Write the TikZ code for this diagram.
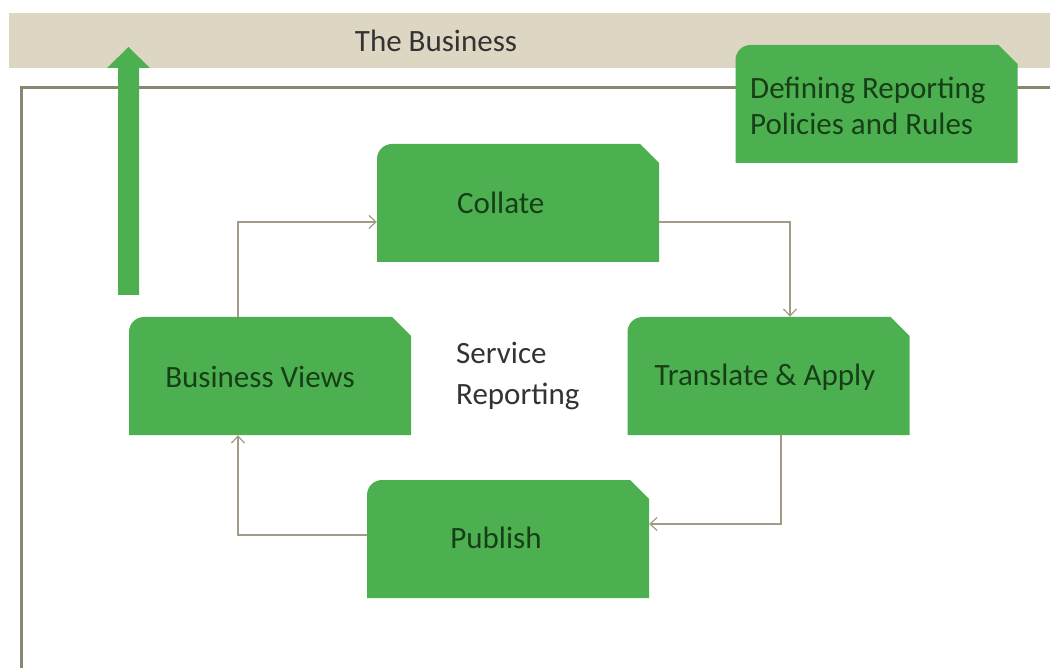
\documentclass[tikz,border=0pt]{standalone}
\usepackage{fontspec}
\setmainfont{Carlito}
\usetikzlibrary{arrows.meta}
\definecolor{boxgreen}{HTML}{4DB050}
\definecolor{boxtext}{HTML}{173F17}
\definecolor{bandc}{HTML}{DDD6C2}
\definecolor{framec}{HTML}{8A8672}
\definecolor{connc}{HTML}{A39B88}
\definecolor{darktext}{HTML}{333333}
\tikzset{
  snipbox/.style={minimum width=282pt, minimum height=118pt, inner sep=0pt,
    path picture={
      \fill[boxgreen] (path picture bounding box.south west)
        [rounded corners=15pt] -- (path picture bounding box.north west)
        [sharp corners] -- ([xshift=-19pt]path picture bounding box.north east)
        -- ([yshift=-19pt]path picture bounding box.north east)
        -- (path picture bounding box.south east) -- cycle;}},
  boxlabel/.style={font=\fontsize{31pt}{36pt}\selectfont, text=boxtext, inner sep=0pt},
  plainlabel/.style={font=\fontsize{31pt}{40pt}\selectfont, text=darktext, inner sep=0pt},
  conn/.style={draw=connc, line width=1.2pt, -{Straight Barb[length=7pt,width=13pt]}},
  framestyle/.style={draw=framec, line width=3pt}
}
\begin{document}
\begin{tikzpicture}[x=1pt,y=-1pt]
\useasboundingbox (0,0) rectangle (1050,668);
% top band
\fill[bandc] (9,13) rectangle (1050,68);
\node[plainlabel] (business) at (436,41) {The Business};
% frame
\draw[framestyle] (21,668) -- (21,88) -- (1050,88);
% green up arrow
\fill[boxgreen] (118,295) -- (118,68) -- (107,68) -- (128.5,47) -- (150,68) -- (139,68) -- (139,295) -- cycle;
% boxes
\node[snipbox] (collate) at (518,203) {};
\node[snipbox] (translate) at (768.5,376) {};
\node[snipbox] (views) at (270,376) {};
\node[snipbox] (publish) at (508,539) {};
\node[snipbox] (defining) at (876.5,104) {};
% labels
\node[boxlabel, anchor=west] (collate-t) at (457,203) {Collate};
\node[boxlabel] (translate-t) at (765,377) {Translate \& Apply};
\node[boxlabel] (views-t) at (260,377) {Business Views};
\node[boxlabel] (publish-t) at (496,538) {Publish};
\node[boxlabel, anchor=west, align=left] (defining-t) at (750,106) {Defining Reporting\\Policies and Rules};
\node[plainlabel, anchor=west, align=left] (service) at (456,376) {Service\\Reporting};
% connectors
\draw[conn] ([xshift=-32pt]views.north) |- ([yshift=-19pt]collate.west);
\draw[conn] ([yshift=-19pt]collate.east) -| ([xshift=21.5pt]translate.north);
\draw[conn] ([xshift=12.5pt]translate.south) |- ([yshift=15pt]publish.east);
\draw[conn] ([yshift=4pt]publish.west) -| ([xshift=-32pt]views.south);
\end{tikzpicture}
\end{document}
